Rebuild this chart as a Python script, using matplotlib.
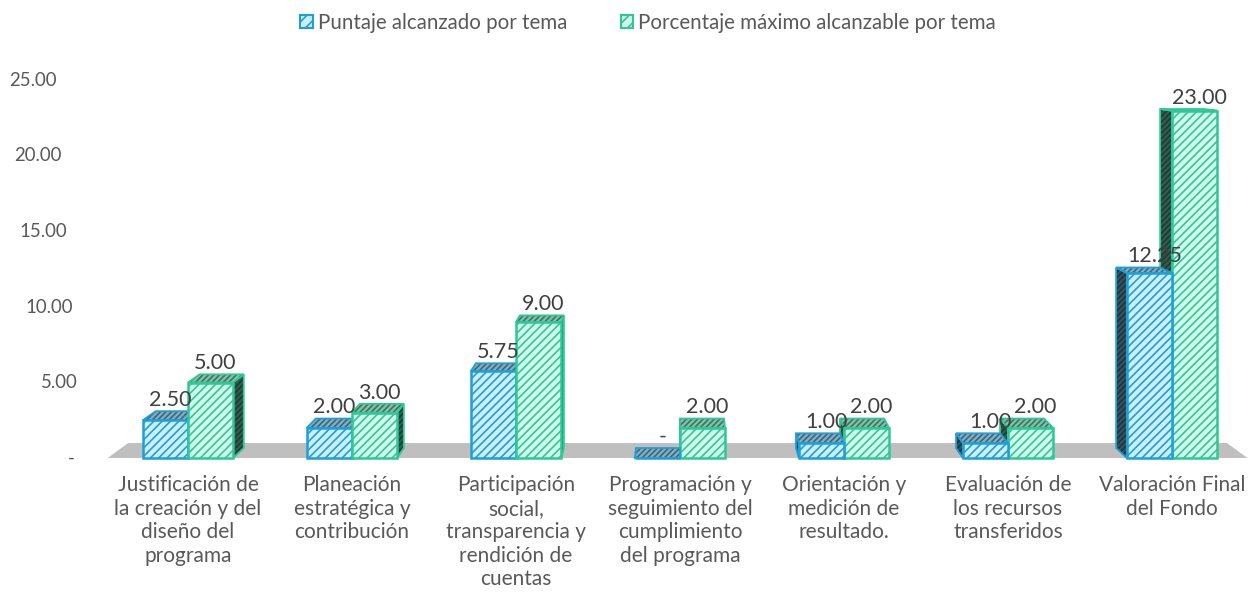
import matplotlib.pyplot as plt
import matplotlib.patches as mpatches
from matplotlib.patches import Polygon

plt.rcParams['font.family'] = ['Lato', 'DejaVu Sans']
plt.rcParams['hatch.linewidth'] = 1.2

# data
categorias = ["Justificación de\nla creación y del\ndiseño del\nprograma",
              "Planeación\nestratégica y\ncontribución",
              "Participación\nsocial,\ntransparencia y\nrendición de\ncuentas",
              "Programación y\nseguimiento del\ncumplimiento\ndel programa",
              "Orientación y\nmedición de\nresultado.",
              "Evaluación de\nlos recursos\ntransferidos",
              "Valoración Final\ndel Fondo"]
puntaje = [2.50, 2.00, 5.75, 0.00, 1.00, 1.00, 12.25]
maximo = [5.00, 3.00, 9.00, 2.00, 2.00, 2.00, 23.00]
serie_nombres = ["Puntaje alcanzado por tema", "Porcentaje máximo alcanzable por tema"]
yticks = [0, 5, 10, 15, 20, 25]

# styles
gris = '#595959'
azul = dict(edge='#1E9FDA', front='#CDEFFC', top='#86AEBF', top_h='#3E6676',
            side='#35525C', side_h='#1F333A')
verde = dict(edge='#2CC996', front='#D3F7EB', top='#88BFA9', top_h='#3F7360',
             side='#355A50', side_h='#1F3A31')

fig = plt.figure(figsize=(12.51, 5.98), dpi=100)
ax = fig.add_axes([0, 0, 1, 1])
ax.set_xlim(-1.146, 6.482)
ax.set_ylim(-9.27, 30.33)
ax.axis('off')

# perspective: vanishing point and depth scale
vx, vy = 3.0, 27.55
s_bar = 0.976
s_floor = 0.964


def back(x, y, s):
    return (vx + s * (x - vx), vy + s * (y - vy))


# floor
fx0, fx1 = -0.49, 6.46
floor = Polygon([(fx0, 0), (fx1, 0), back(fx1, 0, s_floor), back(fx0, 0, s_floor)],
                closed=True, facecolor='#BFBFBF', edgecolor='none', zorder=1)
ax.add_patch(floor)

w = 0.275


def face(pts, fc, hc, ec, z):
    # hatched fill (hatch takes the edge colour), then the outline on top
    ax.add_patch(Polygon(pts, closed=True, facecolor=fc, edgecolor=hc, hatch='//////',
                         lw=0, zorder=z))
    ax.add_patch(Polygon(pts, closed=True, fill=False, edgecolor=ec, lw=1.3, zorder=z))


def draw_bar(x0, h, st, z):
    x1 = x0 + w
    xc = x0 + w / 2
    xs = x1 if xc < vx else x0
    face([(xs, 0), (xs, h), back(xs, h, s_bar), back(xs, 0, s_bar)],
         st['side'], st['side_h'], st['edge'], z)
    face([(x0, h), (x1, h), back(x1, h, s_bar), back(x0, h, s_bar)],
         st['top'], st['top_h'], st['edge'], z)
    ax.bar(x0, h, width=w, align='edge', facecolor=st['front'], edgecolor=st['edge'],
           hatch='////', lw=1.8, zorder=z)


for i in range(len(categorias)):
    xb = i - w
    xg = i
    # farther bar from the vanishing point goes first
    if i < vx:
        orden = [(xb, puntaje[i], azul), (xg, maximo[i], verde)]
    else:
        orden = [(xg, maximo[i], verde), (xb, puntaje[i], azul)]
    for k, (x0, h, st) in enumerate(orden):
        draw_bar(x0, h, st, 2 + k + i * 3)

    for x0, h in [(xb, puntaje[i]), (xg, maximo[i])]:
        txt = '-' if h == 0 else f'{h:.2f}'
        bx, by = back(x0 + w / 2, h, s_bar)
        ax.text(x0 + w / 2 + 0.03, by + 0.35, txt, ha='center', va='baseline',
                fontsize=15.5, color='#404040', zorder=50)

    ax.text(i, -1.15, categorias[i], ha='center', va='top', fontsize=15,
            color=gris, linespacing=1.22)

# y tick labels (slanted axis)
for v in yticks:
    if v == 0:
        ax.text(-1.146 + 71 / 164, v, '-', ha='center', va='center', fontsize=13.4, color=gris)
    else:
        xr = (83 - 1.05 * v) / 164 - 1.146
        ax.text(xr, v, f'{v:.2f}', ha='right', va='center', fontsize=13.4, color=gris)

handles = [mpatches.Patch(facecolor=azul['front'], edgecolor=azul['edge'], hatch='///',
                          lw=1.5, label=serie_nombres[0]),
           mpatches.Patch(facecolor=verde['front'], edgecolor=verde['edge'], hatch='///',
                          lw=1.5, label=serie_nombres[1])]
leg = fig.legend(handles=handles, loc='upper center', bbox_to_anchor=(0.518, 1.01), ncol=2,
                 frameon=False, fontsize=14.8, handlelength=0.6, handleheight=0.6,
                 handletextpad=0.25, columnspacing=2.6)
for t in leg.get_texts():
    t.set_color(gris)

fig.savefig('out.png', dpi=100)
